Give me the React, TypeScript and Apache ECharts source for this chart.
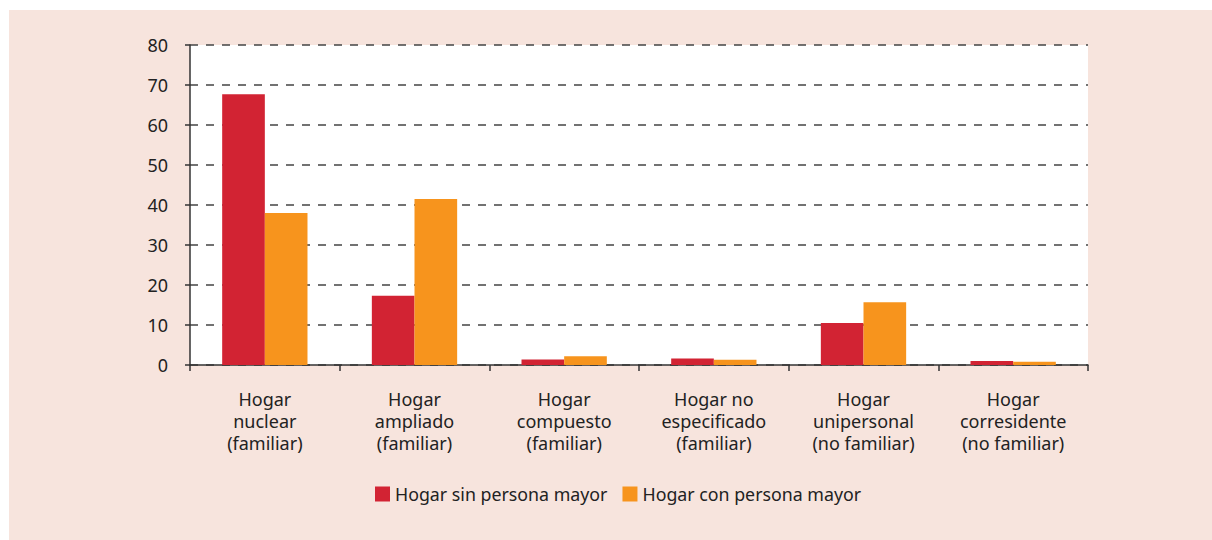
import React, { useEffect, useRef } from "react";
import * as echarts from "echarts";

const categories = [
  "Hogar\nnuclear\n(familiar)",
  "Hogar\nampliado\n(familiar)",
  "Hogar\ncompuesto\n(familiar)",
  "Hogar no\nespecificado\n(familiar)",
  "Hogar\nunipersonal\n(no familiar)",
  "Hogar\ncorresidente\n(no familiar)",
];
const sinPersonaMayor = [67.7, 17.3, 1.4, 1.6, 10.5, 1.0];
const conPersonaMayor = [38.0, 41.5, 2.2, 1.3, 15.7, 0.8];
const seriesNames = ["Hogar sin persona mayor", "Hogar con persona mayor"];
const colors = ["#d22333", "#f7941d"];

const FONT = "'Noto Sans', 'Open Sans', sans-serif";

export default function App() {
  const ref = useRef<HTMLDivElement>(null);
  useEffect(() => {
    document.body.style.margin = "0";
    if (!ref.current) return;
    const chart = echarts.init(ref.current, undefined, { renderer: "svg" });
    chart.setOption({
      animation: false,
      backgroundColor: "#ffffff",
      graphic: [
        {
          type: "rect",
          left: 9,
          top: 10,
          z: -10,
          silent: true,
          shape: { width: 1203, height: 530 },
          style: { fill: "#f7e4dd" },
        },
      ],
      textStyle: { fontFamily: FONT },
      grid: {
        left: 190,
        top: 45,
        right: 124,
        bottom: 175,
        show: true,
        backgroundColor: "#ffffff",
        borderWidth: 0,
        containLabel: false,
      },
      legend: {
        left: 370,
        top: 480,
        itemWidth: 15,
        itemHeight: 15,
        itemGap: 15,
        icon: "rect",
        textStyle: { fontFamily: FONT, fontSize: 17.8, color: "#222222", padding: [0, 0, 0, 0] },
        data: seriesNames,
      },
      xAxis: {
        type: "category",
        data: categories,
        axisLine: { show: true, lineStyle: { color: "#333333", width: 1.5 } },
        axisTick: { show: true, length: 6, inside: false, alignWithLabel: false, lineStyle: { color: "#333333", width: 1.5 } },
        axisLabel: {
          interval: 0,
          margin: 23,
          fontFamily: FONT,
          fontSize: 18,
          lineHeight: 22,
          color: "#222222",
          verticalAlign: "top",
        },
      },
      yAxis: {
        type: "value",
        min: 0,
        max: 80,
        interval: 10,
        axisLine: { show: true, lineStyle: { color: "#333333", width: 1.5 } },
        axisTick: { show: true, length: 5, lineStyle: { color: "#333333", width: 1.5 } },
        axisLabel: { margin: 22, fontFamily: FONT, fontSize: 18, color: "#222222" },
        splitLine: {
          show: true,
          lineStyle: { color: "#444444", width: 1.5, type: [8, 8] },
        },
      },
      series: [
        {
          name: seriesNames[0],
          type: "bar",
          data: sinPersonaMayor,
          itemStyle: { color: colors[0] },
          barGap: "0%",
          barCategoryGap: "43%",
        },
        {
          name: seriesNames[1],
          type: "bar",
          data: conPersonaMayor,
          itemStyle: { color: colors[1] },
          barGap: "0%",
          barCategoryGap: "43%",
        },
      ],
    });
    return () => chart.dispose();
  }, []);
  return <div ref={ref} style={{ width: 1212, height: 540 }} />;
}
